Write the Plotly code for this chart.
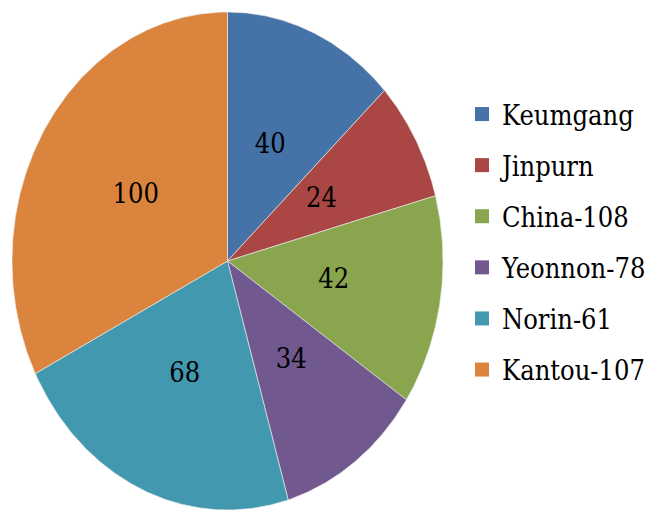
import numpy as np
import plotly.graph_objects as go

# Variety names and counts
varieties = ["Keumgang", "Jinpurn", "China-108", "Yeonnon-78", "Norin-61", "Kantou-107"]
counts = [40, 24, 42, 34, 68, 100]
colors = ["#4572A7", "#AA4643", "#89A54E", "#71588F", "#4198AF", "#DB843D"]

SERIF = "DejaVu Serif Condensed, DejaVu Serif"
LABEL_R = 0.5

fig = go.Figure()

total = float(sum(counts))
start = 0.0
label_x, label_y = [], []
for name, val, col in zip(varieties, counts, colors):
    span = 2 * np.pi * val / total
    theta = np.linspace(start, start + span, 200)
    # angles run clockwise from 12 o'clock
    xs = np.concatenate([[0.0], np.sin(theta), [0.0]])
    ys = np.concatenate([[0.0], np.cos(theta), [0.0]])
    fig.add_trace(go.Scatter(
        x=xs, y=ys, mode="lines", fill="toself", fillcolor=col,
        line=dict(color="rgba(235,235,235,0.8)", width=0.8),
        hoverinfo="skip", showlegend=False,
    ))
    mid = start + span / 2
    label_x.append(LABEL_R * np.sin(mid))
    label_y.append(LABEL_R * np.cos(mid))
    start += span

# slice value labels
fig.add_trace(go.Scatter(
    x=label_x, y=label_y, mode="text", text=[str(v) for v in counts],
    textfont=dict(family=SERIF, size=27, color="black"),
    hoverinfo="skip", showlegend=False,
))

# legend entries with square swatches
for i, (name, col) in enumerate(zip(varieties, colors)):
    fig.add_trace(go.Scatter(
        x=[None], y=[None], mode="markers", name=name, legendgroup=f"g{i}",
        marker=dict(symbol="square", size=14, color=col),
    ))

fig.update_layout(
    width=651, height=512,
    margin=dict(l=0, r=0, t=0, b=0, autoexpand=False),
    paper_bgcolor="white", plot_bgcolor="white",
    xaxis=dict(range=[-1, 1], domain=[12 / 651, 443 / 651], visible=False),
    yaxis=dict(range=[-1, 1], domain=[2 / 512, 500 / 512], visible=False),
    showlegend=True,
    legend=dict(
        x=462 / 651, y=(512 - 90) / 512, xanchor="left", yanchor="top",
        font=dict(family=SERIF, size=27, color="black"),
        tracegroupgap=13, itemwidth=30, bgcolor="rgba(0,0,0,0)",
    ),
)

fig.write_html("out.html")
